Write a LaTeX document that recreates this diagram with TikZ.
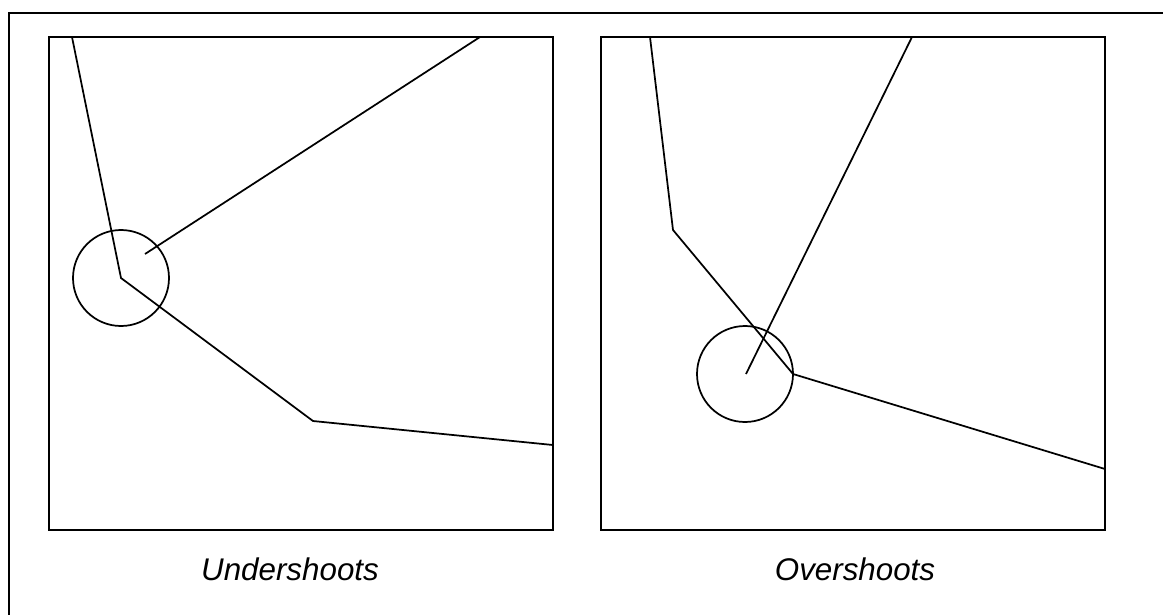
\documentclass[tikz,border=0pt]{standalone}
\usepackage{fontspec}
\setmainfont{Liberation Sans}
\begin{document}
\begin{tikzpicture}[x=0.75pt,y=-0.75pt,
  frame/.style={line width=2pt},
  panel/.style={line width=1.3pt},
  seg/.style={line width=1.3pt, line join=miter},
  snap/.style={circle, draw, line width=1.3pt, minimum size=72pt, inner sep=0pt},
  caption/.style={font=\itshape\fontsize{23.5}{28}\selectfont, anchor=base}]
\useasboundingbox (0,0) rectangle (1163,614);
% outer frame (cut at right and bottom)
\draw[frame] (9,620) -- (9,13) -- (1170,13);
% left panel
\draw[panel] (49,37) rectangle (553,530);
\coordinate (a1) at (72,37);
\coordinate (a2) at (121,278);
\coordinate (a3) at (313,421);
\coordinate (a4) at (553,445);
\coordinate (b1) at (480,37);
\coordinate (b2) at (145,254);
\draw[seg] (a1) -- (a2) -- (a3) -- (a4);
\draw[seg] (b1) -- (b2);
\node[snap] (c1) at (121,278) {};
% right panel
\draw[panel] (601,37) rectangle (1105,530);
\coordinate (p1) at (650,37);
\coordinate (p2) at (673,230);
\coordinate (p3) at (793,374);
\coordinate (p4) at (1105,469);
\coordinate (q1) at (912,37);
\coordinate (q2) at (746,374);
\draw[seg] (p1) -- (p2) -- (p3) -- (p4);
\draw[seg] (q1) -- (q2);
\node[snap] (c2) at (745,374) {};
% captions
\node[caption] (t1) at (290,580) {Undershoots};
\node[caption] (t2) at (855,580) {Overshoots};
\end{tikzpicture}
\end{document}
